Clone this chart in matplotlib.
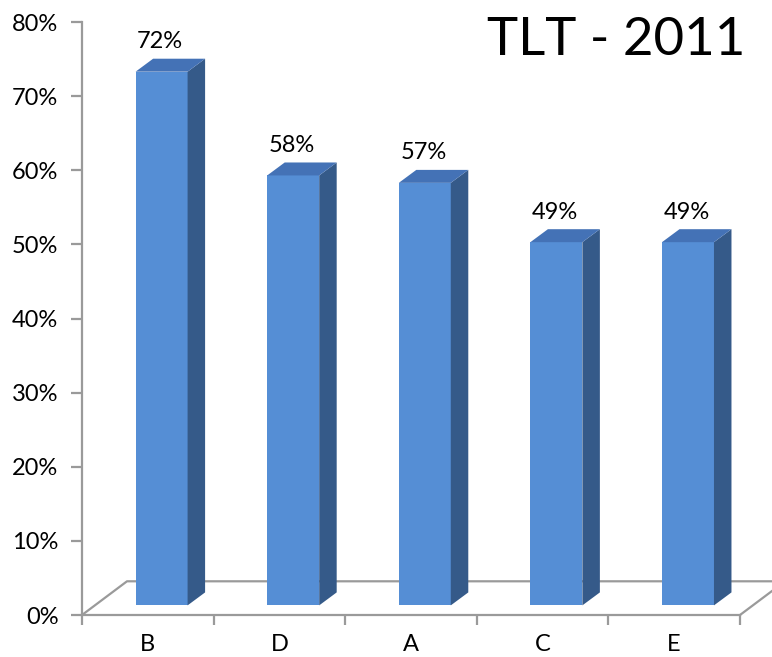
import matplotlib.pyplot as plt
from matplotlib.patches import Polygon
from matplotlib.ticker import PercentFormatter

cats = ['B', 'D', 'A', 'C', 'E']
vals = [72, 58, 57, 49, 49]
title = 'TLT - 2011'

plt.rcParams['font.family'] = ['Lato', 'DejaVu Sans']

# couleurs style Excel
c_front = '#558ed5'
c_side = '#355a89'
c_top = '#4472b6'
c_grey = '#9a9a9a'

# pseudo-3D : décalages en unités de données
bar_w = 0.395
ox0, oy0 = 0.105, 1.3     # plan avant des barres
bdx, bdy = 0.133, 1.75    # profondeur des barres
fdx, fdy = 0.342, 4.55    # profondeur du sol

fig = plt.figure(figsize=(7.72, 6.57), dpi=100)
ax = fig.add_axes([0.1062, 0.0639, 0.8523, 0.9026])
ax.set_xlim(-0.5, 4.5)
ax.set_ylim(0, 80)

# sol
ax.plot([-0.5, -0.5 + fdx, 4.5 + fdx + 0.2], [0, fdy, fdy], color=c_grey, lw=1.6,
        clip_on=False, zorder=1)
ax.plot([4.5, 4.5 + fdx], [0, fdy], color=c_grey, lw=1.6, clip_on=False, zorder=1)

for i, v in enumerate(vals):
    x0 = i - bar_w / 2 + ox0
    x1 = i + bar_w / 2 + ox0
    y0 = oy0
    y1 = v + oy0
    front = Polygon([(x0, y0), (x1, y0), (x1, y1), (x0, y1)], closed=True,
                    facecolor=c_front, edgecolor='none', zorder=3)
    side = Polygon([(x1, y0), (x1 + bdx, y0 + bdy), (x1 + bdx, y1 + bdy), (x1, y1)],
                   closed=True, facecolor=c_side, edgecolor='none', zorder=3)
    top = Polygon([(x0, y1), (x1, y1), (x1 + bdx, y1 + bdy), (x0 + bdx, y1 + bdy)],
                  closed=True, facecolor=c_top, edgecolor='none', zorder=3)
    for p in (front, side, top):
        p.set_clip_on(False)
        ax.add_patch(p)
    ax.text(i + ox0 - 0.01, y1 + bdy + 2.3, f'{v}%', ha='center', va='center',
            fontsize=17)

# axes
for s in ['top', 'right']:
    ax.spines[s].set_visible(False)
for s in ['left', 'bottom']:
    ax.spines[s].set_color(c_grey)
    ax.spines[s].set_linewidth(1.6)

ax.set_yticks(range(0, 81, 10))
ax.yaxis.set_major_formatter(PercentFormatter(decimals=0))
ax.tick_params(axis='y', length=8, width=1.6, color=c_grey, labelsize=17, pad=9)

ax.set_xticks([i - 0.5 for i in range(6)])
ax.set_xticklabels([])
ax.set_xticks(range(5), minor=True)
ax.set_xticklabels(cats, minor=True)
ax.tick_params(axis='x', which='major', length=7, width=1.6, color=c_grey)
ax.tick_params(axis='x', which='minor', length=0, labelsize=17, pad=14)

fig.text(0.965, 0.939, title, ha='right', va='center', fontsize=38)

fig.savefig('out.png', dpi=100)
